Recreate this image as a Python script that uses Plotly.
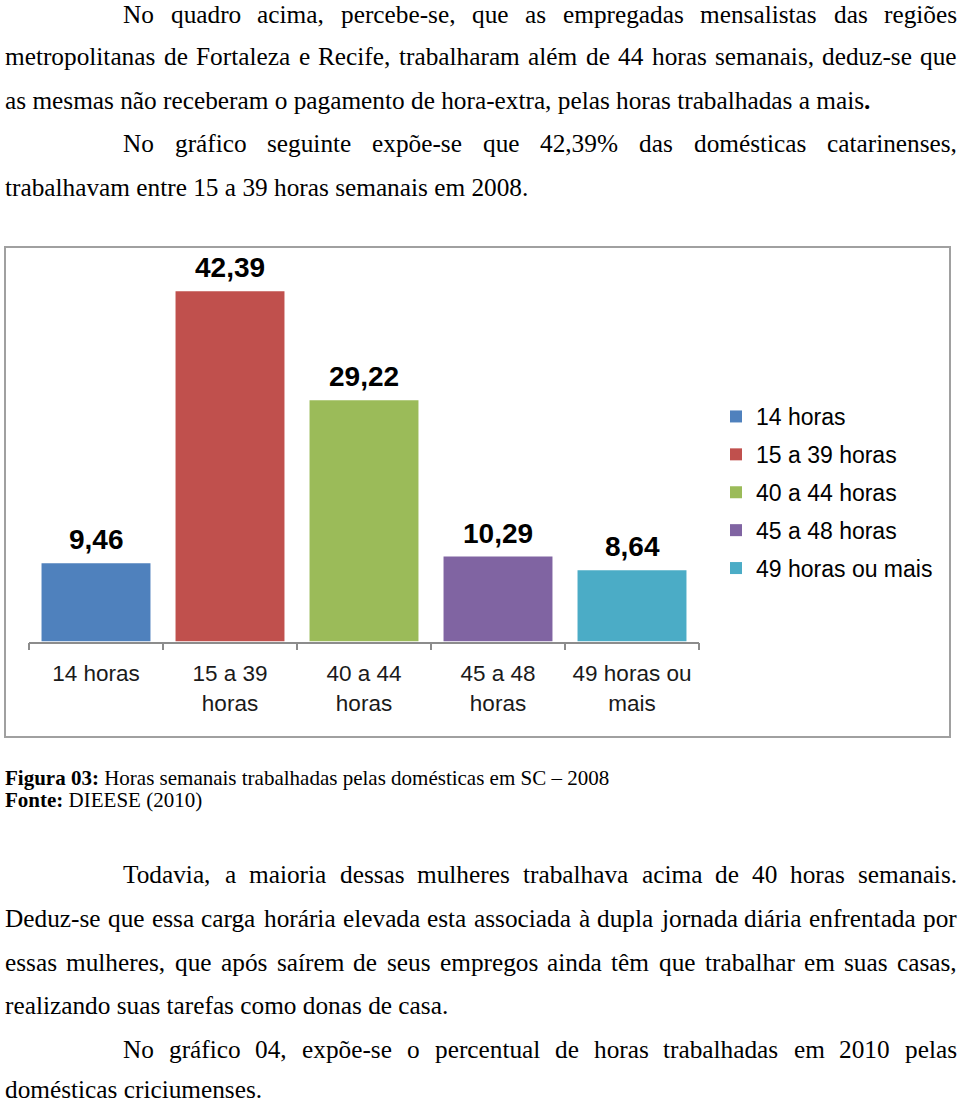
import unicodedata
import plotly.graph_objects as go

# ---------------- data ----------------
categories = ["14 horas", "15 a 39 horas", "40 a 44 horas", "45 a 48 horas", "49 horas ou mais"]
tick_labels = ["14 horas", "15 a 39<br>horas", "40 a 44<br>horas", "45 a 48<br>horas", "49 horas ou<br>mais"]
values = [9.46, 42.39, 29.22, 10.29, 8.64]
colors = ["#4F81BD", "#C0504D", "#9BBB59", "#8064A2", "#4BACC6"]

top_lines = [
    ("No quadro acima, percebe-se, que as empregadas mensalistas das regiões", "indent-justify"),
    ("metropolitanas de Fortaleza e Recife, trabalharam além de 44 horas semanais, deduz-se que", "justify"),
    ("as mesmas não receberam o pagamento de hora-extra, pelas horas trabalhadas a mais<b>.</b>", "left"),
    ("No gráfico seguinte expõe-se que 42,39% das domésticas catarinenses,", "indent-justify"),
    ("trabalhavam entre 15 a 39 horas semanais em 2008.", "left"),
]
top_baselines = [22.5, 64.5, 108, 151.7, 195.5]

caption_lines = [
    "<b>Figura 03:</b> Horas semanais trabalhadas pelas domésticas em SC – 2008",
    "<b>Fonte:</b> DIEESE (2010)",
]
caption_baselines = [785, 807]

bottom_lines = [
    ("Todavia, a maioria dessas mulheres trabalhava acima de 40 horas semanais.", "indent-justify"),
    ("Deduz-se que essa carga horária elevada esta associada à dupla jornada diária enfrentada por", "justify"),
    ("essas mulheres, que após saírem de seus empregos ainda têm que trabalhar em suas casas,", "justify"),
    ("realizando suas tarefas como donas de casa.", "left"),
    ("No gráfico 04, expõe-se o percentual de horas trabalhadas em 2010 pelas", "indent-justify"),
    ("domésticas criciumenses.", "left"),
]
bottom_baselines = [882, 926, 970, 1013.5, 1057, 1097]

# ---------------- page geometry ----------------
W, H = 960, 1103
LEFT, INDENT, RIGHT = 5, 123, 957
BODY_SIZE = 25.3
SERIF = "Liberation Serif, Times New Roman, serif"
SANS = "Liberation Sans, Arial, sans-serif"


def px(x):
    return x / W


def py(y):
    return 1 - y / H


# Times New Roman / Liberation Serif advance widths (1/1000 em)
TNR = dict(zip("abcdefghijklmnopqrstuvwxyz",
               [444, 500, 444, 500, 444, 333, 500, 500, 278, 278, 500, 278, 778,
                500, 500, 500, 500, 333, 389, 278, 500, 500, 722, 500, 500, 444]))
TNR.update(dict(zip("ABCDEFGHIJKLMNOPQRSTUVWXYZ",
                    [722, 667, 667, 722, 611, 556, 722, 722, 333, 389, 722, 611, 889,
                     722, 722, 556, 722, 667, 556, 611, 722, 722, 944, 722, 722, 611])))
TNR.update({d: 500 for d in "0123456789"})
TNR.update({" ": 250, ",": 250, ".": 250, "-": 333, ":": 278, "%": 833,
            "(": 333, ")": 333, "–": 500})


def word_width(w, size):
    total = 0
    for ch in w:
        base = unicodedata.normalize("NFD", ch)[0]
        total += TNR.get(base, 500)
    return total / 1000 * size


annotations = []


def text_ann(text, x_left, baseline, size=BODY_SIZE, anchor="left"):
    annotations.append(dict(
        text=text, xref="paper", yref="paper",
        x=px(x_left), y=py(baseline - 0.335 * size),
        xanchor=anchor, yanchor="middle", showarrow=False,
        font=dict(family=SERIF, size=size, color="#000000"),
        borderpad=0, borderwidth=0,
    ))


def add_paragraph(lines, baselines):
    for (line, mode), base in zip(lines, baselines):
        x0 = INDENT if mode.startswith("indent") else LEFT
        if mode == "left":
            text_ann(line, x0, base)
            continue
        words = line.split(" ")
        widths = [word_width(w.replace("<b>", "").replace("</b>", ""), BODY_SIZE) for w in words]
        gap = (RIGHT - x0 - sum(widths)) / (len(words) - 1)
        pos = x0
        for i, (w, ww) in enumerate(zip(words, widths)):
            if i == len(words) - 1:
                text_ann(w, RIGHT, base, anchor="right")
            else:
                text_ann(w, pos, base)
            pos += ww + gap


add_paragraph(top_lines, top_baselines)
add_paragraph(bottom_lines, bottom_baselines)
for cap, base in zip(caption_lines, caption_baselines):
    text_ann(cap, LEFT, base, size=21)

# ---------------- chart ----------------
fig = go.Figure()
for cat, lab, val, col in zip(categories, tick_labels, values, colors):
    fig.add_trace(go.Bar(
        x=[lab], y=[val], name=cat, marker=dict(color=col, line=dict(width=0)),
        legendgroup=cat, hoverinfo="skip",
    ))
    annotations.append(dict(
        x=lab, y=val, xref="x", yref="y", text="<b>" + f"{val:.2f}".replace(".", ",") + "</b>",
        showarrow=False, yanchor="bottom", xanchor="center", yshift=6,
        font=dict(family=SANS, size=28, color="#000000"),
    ))

PLOT_TOP, BASELINE = 250, 641.5
PX_PER_UNIT = 8.26
ymax = (BASELINE - PLOT_TOP) / PX_PER_UNIT

fig.update_layout(
    width=W, height=H,
    margin=dict(l=0, r=0, t=0, b=0),
    paper_bgcolor="white", plot_bgcolor="white",
    barmode="relative", bargap=0.187,
    showlegend=True,
    legend=dict(
        x=px(716), y=py(395), xanchor="left", yanchor="top",
        font=dict(family=SANS, size=23, color="#000000"),
        tracegroupgap=5, bgcolor="rgba(0,0,0,0)", itemclick=False,
    ),
    xaxis=dict(
        domain=[px(29), px(699)], type="category",
        showline=True, linecolor="#8c8c8c", linewidth=1.5,
        ticks="outside", tickson="boundaries", ticklen=7, tickcolor="#8c8c8c", tickwidth=1.5,
        ticklabelstandoff=11,
        showgrid=False, zeroline=False,
        tickfont=dict(family=SANS, size=22.5, color="#1a1a1a"),
        fixedrange=True,
    ),
    yaxis=dict(
        domain=[py(BASELINE), py(PLOT_TOP)], range=[0, ymax],
        visible=False, showgrid=False, zeroline=False, fixedrange=True,
    ),
    annotations=annotations,
    shapes=[dict(
        type="rect", xref="paper", yref="paper",
        x0=px(5), x1=px(950), y0=py(737), y1=py(247),
        line=dict(color="#a0a0a0", width=2), fillcolor="rgba(0,0,0,0)", layer="below",
    )],
)

fig.write_html(
    "out.html",
    config={"displayModeBar": False, "staticPlot": False},
    post_script="document.body.style.margin='0px';",
)
